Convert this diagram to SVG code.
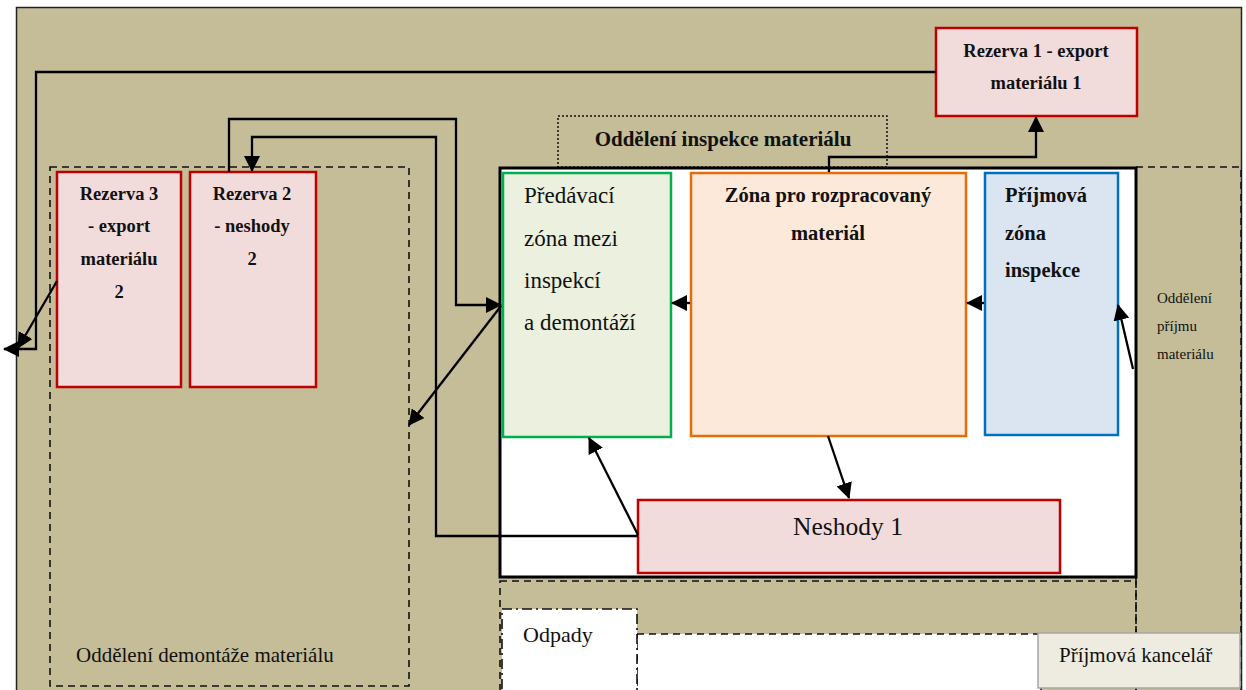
<svg xmlns="http://www.w3.org/2000/svg" width="1246" height="690" viewBox="0 0 1246 690" font-family="'Liberation Serif', 'DejaVu Serif', serif">
  <defs>
    <marker id="arrow" markerUnits="userSpaceOnUse" markerWidth="16" markerHeight="16" viewBox="0 0 16 16" refX="15" refY="8" orient="auto">
      <path d="M0,0 L16,8 L0,16 Z" fill="#000"/>
    </marker>
    <style>
      text { font-family: 'Liberation Serif', 'DejaVu Serif', serif; fill: #111; }
      .bold { font-weight: bold; }
      .reserve { fill: #f2dcdb; stroke: #c00000; stroke-width: 2.5; }
      .flow { fill: none; stroke: #000; stroke-width: 2.3; }
      .dash { fill: none; stroke: #111; stroke-width: 1.6; stroke-dasharray: 7 5; }
    </style>
  </defs>

  <rect width="1246" height="690" fill="#fff"/>

  <!-- hall -->
  <g id="hall">
    <rect x="16.5" y="7.5" width="1225" height="690" fill="#c4bd97" stroke="#222" stroke-width="1.5"/>
  </g>

  <!-- disassembly department -->
  <g id="demontaz">
    <rect class="dash" x="50" y="167" width="359" height="519"/>
    <text x="76" y="662" font-size="21">Oddělení demontáže materiálu</text>
  </g>

  <!-- inspection department label -->
  <g id="inspekce-label">
    <rect x="558" y="116" width="329" height="51" fill="none" stroke="#111" stroke-width="1.5" stroke-dasharray="2 2"/>
    <text class="bold" x="723" y="146" font-size="21" text-anchor="middle">Oddělení inspekce materiálu</text>
  </g>

  <!-- receiving department strip -->
  <g id="prijem">
    <rect class="dash" x="1136" y="167" width="105" height="530"/>
    <text x="1157" y="303" font-size="15">Oddělení</text>
    <text x="1157" y="331" font-size="15">příjmu</text>
    <text x="1157" y="359" font-size="15">materiálu</text>
  </g>

  <!-- inspection hall -->
  <g id="inspekce">
    <rect x="500" y="168" width="636" height="409" fill="#fff" stroke="#000" stroke-width="3"/>
  </g>

  <!-- lower strip: waste + office -->
  <g id="dolni-pas">
    <rect class="dash" x="500" y="581" width="636" height="115"/>
    <rect x="637" y="634" width="404" height="60" fill="#fff" stroke="#111" stroke-width="1.5" stroke-dasharray="7 5"/>
  </g>
  <g id="odpady">
    <rect x="502" y="609" width="135" height="85" fill="#fff" stroke="#111" stroke-width="1.6" stroke-dasharray="10 4 2 4"/>
    <text x="523" y="642" font-size="22">Odpady</text>
  </g>
  <g id="kancelar">
    <rect x="1038" y="633" width="202" height="55" fill="#eeece1" stroke="#a6a6a6" stroke-width="1.5"/>
    <text x="1059" y="662" font-size="21">Příjmová kancelář</text>
  </g>

  <!-- reserve 1 -->
  <g id="rezerva1">
    <rect class="reserve" x="936" y="28" width="201" height="88"/>
    <text class="bold" x="1036" y="57" font-size="18.5" text-anchor="middle">Rezerva 1 - export</text>
    <text class="bold" x="1036" y="89" font-size="18.5" text-anchor="middle">materiálu 1</text>
  </g>

  <!-- reserve 3 -->
  <g id="rezerva3">
    <rect class="reserve" x="57" y="172" width="124" height="215"/>
    <text class="bold" x="119" y="200" font-size="18.5" text-anchor="middle">Rezerva 3</text>
    <text class="bold" x="119" y="232" font-size="18.5" text-anchor="middle">- export</text>
    <text class="bold" x="119" y="265" font-size="18.5" text-anchor="middle">materiálu</text>
    <text class="bold" x="119" y="298" font-size="18.5" text-anchor="middle">2</text>
  </g>

  <!-- reserve 2 -->
  <g id="rezerva2">
    <rect class="reserve" x="190" y="172" width="126" height="215"/>
    <text class="bold" x="252" y="200" font-size="18.5" text-anchor="middle">Rezerva 2</text>
    <text class="bold" x="252" y="232" font-size="18.5" text-anchor="middle">- neshody</text>
    <text class="bold" x="252" y="265" font-size="18.5" text-anchor="middle">2</text>
  </g>

  <!-- handover zone -->
  <g id="predavaci">
    <rect x="503" y="173" width="168" height="264" fill="#ebf1de" stroke="#00b050" stroke-width="2.5"/>
    <text x="524" y="203" font-size="23">Předávací</text>
    <text x="524" y="246" font-size="23">zóna mezi</text>
    <text x="524" y="288" font-size="23">inspekcí</text>
    <text x="524" y="330" font-size="23">a demontáží</text>
  </g>

  <!-- work-in-progress zone -->
  <g id="rozpracovany">
    <rect x="691" y="173" width="275" height="263" fill="#fde9d9" stroke="#e46c0a" stroke-width="2.5"/>
    <text class="bold" x="828" y="202" font-size="20.5" text-anchor="middle">Zóna pro rozpracovaný</text>
    <text class="bold" x="828" y="240" font-size="20.5" text-anchor="middle">materiál</text>
  </g>

  <!-- receiving inspection zone -->
  <g id="prijmova-zona">
    <rect x="985" y="173" width="133" height="262" fill="#dbe5f1" stroke="#0070c0" stroke-width="2.5"/>
    <text class="bold" x="1005" y="202" font-size="20.5">Příjmová</text>
    <text class="bold" x="1005" y="240" font-size="20.5">zóna</text>
    <text class="bold" x="1005" y="277" font-size="20.5">inspekce</text>
  </g>

  <!-- nonconformities 1 -->
  <g id="neshody1">
    <rect class="reserve" x="638" y="500" width="422" height="73"/>
    <text x="848" y="535" font-size="25.5" text-anchor="middle">Neshody 1</text>
  </g>

  <!-- material flows -->
  <g id="connectors">
    <path class="flow" d="M936,72 H36 V349 H4" marker-end="url(#arrow)"/>
    <path class="flow" d="M57,281 L18,348" marker-end="url(#arrow)"/>
    <path class="flow" d="M229,172 V119 H456 V305 H501" marker-end="url(#arrow)"/>
    <path class="flow" d="M638,536 H436 V137 H252 V171" marker-end="url(#arrow)"/>
    <path class="flow" d="M501,306 L409,425" marker-end="url(#arrow)"/>
    <path class="flow" d="M638,535 L589,438" marker-end="url(#arrow)"/>
    <path class="flow" d="M690,303 H672" marker-end="url(#arrow)"/>
    <path class="flow" d="M984,303 H967" marker-end="url(#arrow)"/>
    <path class="flow" d="M1133,369 L1118,305" marker-end="url(#arrow)"/>
    <path class="flow" d="M828,436 L849,498" marker-end="url(#arrow)"/>
    <path class="flow" d="M829,172 V157 H1036 V117" marker-end="url(#arrow)"/>
  </g>
</svg>
